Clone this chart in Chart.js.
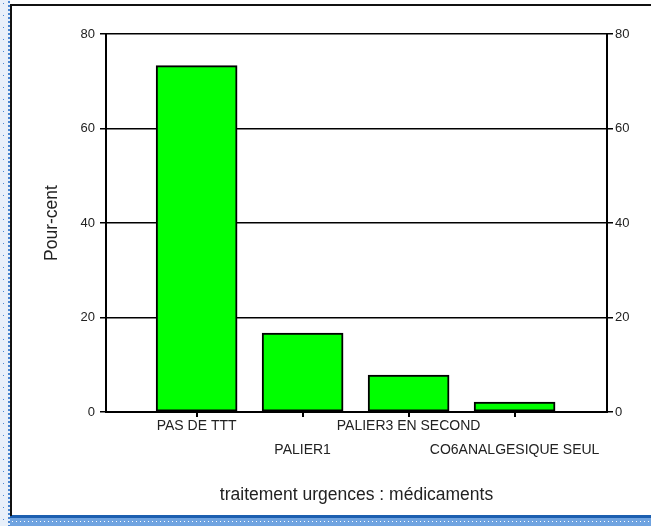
<!DOCTYPE html>
<html lang="fr">
<head>
  <meta charset="UTF-8" />
  <title>traitement urgences : médicaments</title>
  <script src="https://cdn.jsdelivr.net/npm/chart.js"></script>
  <style>
    html, body { margin: 0; padding: 0; background: #fff; }
    #wrap { width: 651px; height: 526px; }
  </style>
</head>
<body>
  <div id="wrap"><canvas id="chart" width="651" height="526"></canvas></div>

  <script>
    // data
    const categories = ["PAS DE TTT", "PALIER1", "PALIER3 EN SECOND", "CO6ANALGESIQUE SEUL"];
    const percents = [73.3, 16.7, 7.8, 2.1];
    const yTicks = [0, 20, 40, 60, 80];

    const FONT = "'Liberation Sans', Arial, sans-serif";

    // white page, black frame and the blue dotted edges of the screenshot
    const frame = {
      id: "frame",
      beforeDraw(chart) {
        const c = chart.ctx;
        c.save();
        c.fillStyle = "#fff";
        c.fillRect(0, 0, 651, 526);
        // left dotted strip
        c.fillStyle = "#e8f0fa";
        c.fillRect(0, 0, 10, 526);
        c.fillStyle = "#4a86d0";
        for (let y = 1; y < 526; y += 4) {
          c.fillRect(8, y, 2, 2);
          if (y % 12 === 1) c.fillRect(3, y + 2, 1, 1);
        }
        // bottom band
        c.fillStyle = "#1c5fb0";
        c.fillRect(10, 515, 641, 3);
        c.fillStyle = "#6fa3e0";
        c.fillRect(10, 518, 641, 8);
        c.fillStyle = "#ffffff";
        for (let x = 12; x < 651; x += 4) c.fillRect(x, 521, 1, 1);
        // black frame
        c.fillStyle = "#111";
        c.fillRect(10, 4, 641, 2);
        c.fillRect(10, 4, 2, 512);
        c.restore();
      }
    };

    new Chart(document.getElementById("chart"), {
      type: "bar",
      data: {
        datasets: [{
          data: percents.map((v, i) => ({ x: i, y: v })),
          backgroundColor: "#00ff00",
          borderColor: "#000",
          borderWidth: 2,
          borderSkipped: false,
          barThickness: 81
        }]
      },
      options: {
        responsive: false,
        animation: false,
        layout: { padding: { top: 34, left: 0, right: 0, bottom: 0 } },
        plugins: { legend: { display: false }, tooltip: { enabled: false } },
        scales: {
          x: {
            type: "linear",
            offset: false,
            min: -0.855,
            max: 3.872,
            afterFit(s) { s.height = 114; },
            afterBuildTicks(s) { s.ticks = categories.map((_, i) => ({ value: i })); },
            grid: { offset: false, drawOnChartArea: false, drawTicks: true, tickLength: 5, color: "#000", lineWidth: 2 },
            border: { display: true, color: "#000", width: 2 },
            ticks: {
              autoSkip: false,
              maxRotation: 0,
              padding: 3,
              color: "#222",
              font: { family: FONT, size: 14, lineHeight: "12px" },
              callback(v) {
                const i = Math.round(v);
                return i % 2 ? ["", "", categories[i]] : categories[i];
              }
            },
            title: {
              display: true,
              text: "traitement urgences : médicaments",
              color: "#222",
              font: { family: FONT, size: 17.5 },
              padding: { top: 0, bottom: 20 }
            }
          },
          y: {
            position: "left",
            min: 0,
            max: 80,
            afterFit(s) { s.width = 106; },
            afterBuildTicks(s) { s.ticks = yTicks.map(v => ({ value: v })); },
            grid: { color: "#000", lineWidth: 1.5, tickLength: 6 },
            border: { display: true, color: "#000", width: 2 },
            ticks: { padding: 5, color: "#222", font: { family: FONT, size: 13 } },
            title: {
              display: true,
              text: "Pour-cent",
              color: "#222",
              font: { family: FONT, size: 17.5 },
              padding: { top: 42, bottom: 0 }
            }
          },
          y2: {
            position: "right",
            min: 0,
            max: 80,
            afterFit(s) { s.width = 44; },
            afterBuildTicks(s) { s.ticks = yTicks.map(v => ({ value: v })); },
            grid: { drawOnChartArea: false, color: "#000", lineWidth: 1.5, tickLength: 6 },
            border: { display: true, color: "#000", width: 2 },
            ticks: { padding: 2, color: "#222", font: { family: FONT, size: 13 } }
          }
        }
      },
      plugins: [frame]
    });
  </script>
</body>
</html>
